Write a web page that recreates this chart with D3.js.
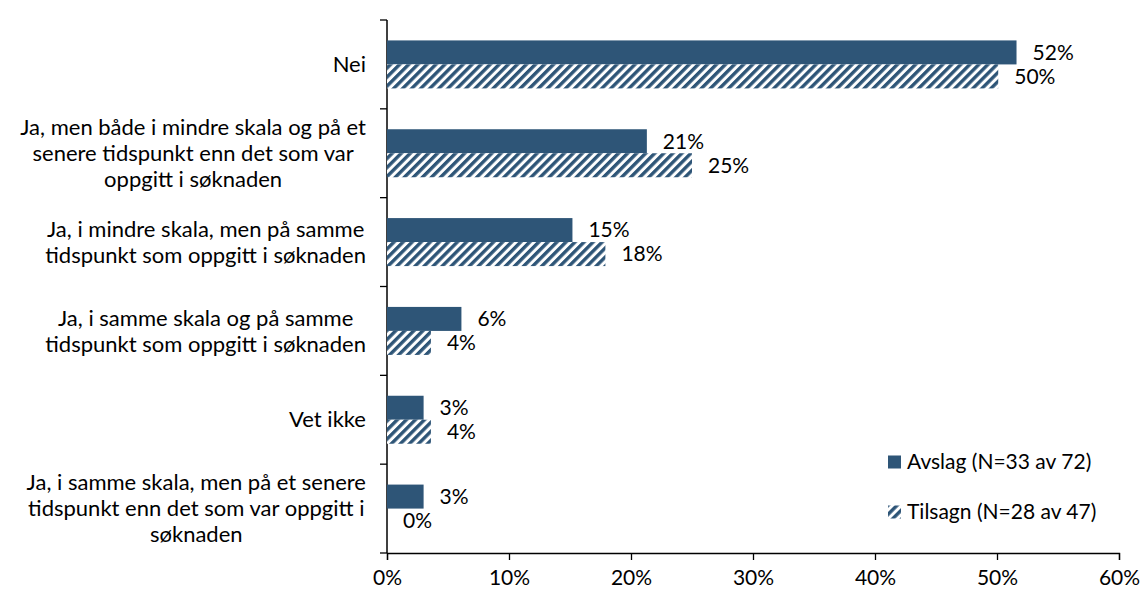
<!DOCTYPE html>
<html>
<head>
<meta charset="utf-8">
<title>Avslag / Tilsagn</title>
<script src="https://cdn.jsdelivr.net/npm/d3@7"></script>
<style>
  body { margin: 0; background: #fff; }
  svg { font-family: Lato, "Open Sans", sans-serif; }
</style>
</head>
<body>
<script>
// data
var categories = [
  ["Nei"],
  ["Ja, men både i mindre skala og på et", "senere tidspunkt enn det som var", "oppgitt i søknaden"],
  ["Ja, i mindre skala, men på samme", "tidspunkt som oppgitt i søknaden"],
  ["Ja, i samme skala og på samme", "tidspunkt som oppgitt i søknaden"],
  ["Vet ikke"],
  ["Ja, i samme skala, men på et senere", "tidspunkt enn det som var oppgitt i", "søknaden"]
];
var avslag  = [0.516, 0.213, 0.152, 0.061, 0.030, 0.030];
var tilsagn = [0.501, 0.250, 0.179, 0.036, 0.036, 0.000];
var seriesNames = ["Avslag (N=33 av 72)", "Tilsagn (N=28 av 47)"];
var xTicks = [0, 0.1, 0.2, 0.3, 0.4, 0.5, 0.6];

var W = 1142, H = 595;
var color = "#2e5577";
var mLeft = 387, mRight = 1119, mTop = 20, mBottom = 553;
var fs = 21;

var svg = d3.select("body").append("svg")
    .attr("width", W).attr("height", H);

// hatch pattern
var pat = svg.append("defs").append("pattern")
    .attr("id", "hatch")
    .attr("patternUnits", "userSpaceOnUse")
    .attr("width", 6.4).attr("height", 6.4)
    .attr("patternTransform", "rotate(45)");
pat.append("rect").attr("width", 6.4).attr("height", 6.4).attr("fill", "#fff");
pat.append("rect").attr("width", 3.4).attr("height", 6.4).attr("fill", color);

var x = d3.scaleLinear().domain([0, 0.6]).range([mLeft, mRight]);
var y = d3.scaleBand().domain(d3.range(categories.length)).range([mTop, mBottom]);

var bh = 24;

// x axis
var xAxis = svg.append("g")
    .attr("transform", "translate(0," + mBottom + ")")
    .call(d3.axisBottom(x).tickValues(xTicks).tickFormat(d3.format(".0%")).tickSizeOuter(0).tickSize(7));
xAxis.select(".domain").attr("stroke", "#000").attr("stroke-width", 1.3);
xAxis.selectAll(".tick line").attr("stroke", "#000").attr("stroke-width", 1.3);
xAxis.selectAll("text").attr("font-size", fs).attr("fill", "#000").attr("dy", "1.05em")
    .attr("font-family", "Lato, sans-serif");

// y axis line + ticks at band boundaries
svg.append("line").attr("x1", mLeft).attr("x2", mLeft).attr("y1", mTop).attr("y2", mBottom)
    .attr("stroke", "#000").attr("stroke-width", 1.5);
svg.selectAll(".ytick").data(d3.range(categories.length + 1)).enter().append("line")
    .attr("x1", mLeft - 7).attr("x2", mLeft)
    .attr("y1", function(d) { return mTop + d * y.step(); })
    .attr("y2", function(d) { return mTop + d * y.step(); })
    .attr("stroke", "#000").attr("stroke-width", 1.3);

// category labels: block right-aligned to the axis, lines centred in the block
var lineH = 26;
var labels = svg.selectAll(".cat").data(categories).enter().append("text")
    .attr("class", "cat")
    .attr("text-anchor", "middle")
    .attr("font-size", 22)
    .attr("fill", "#000");
labels.each(function(lines, i) {
  var cy = y(i) + y.bandwidth() / 2;
  var y0 = cy - (lines.length - 1) * lineH / 2;
  var t = d3.select(this);
  var spans = t.selectAll("tspan").data(lines).enter().append("tspan")
    .attr("y", function(d, j) { return y0 + j * lineH; })
    .attr("dy", "0.35em")
    .text(function(d) { return d; });
  var maxW = 0;
  spans.each(function() { maxW = Math.max(maxW, this.getComputedTextLength()); });
  spans.attr("x", 366 - maxW / 2);
});

// bars
var g = svg.append("g");
g.selectAll(".avs").data(avslag).enter().append("rect")
    .attr("x", x(0))
    .attr("y", function(d, i) { return y(i) + y.bandwidth() / 2 - bh; })
    .attr("width", function(d) { return x(d) - x(0); })
    .attr("height", bh)
    .attr("fill", color);
g.selectAll(".til").data(tilsagn).enter().append("rect")
    .attr("x", x(0))
    .attr("y", function(d, i) { return y(i) + y.bandwidth() / 2; })
    .attr("width", function(d) { return x(d) - x(0); })
    .attr("height", bh)
    .attr("fill", "url(#hatch)");

// value labels
var fmt = d3.format(".0%");
g.selectAll(".lavs").data(avslag).enter().append("text")
    .attr("x", function(d) { return x(d) + 16; })
    .attr("y", function(d, i) { return y(i) + y.bandwidth() / 2 - bh / 2; })
    .attr("dy", "0.35em")
    .attr("font-size", fs)
    .text(function(d) { return fmt(d); });
g.selectAll(".ltil").data(tilsagn).enter().append("text")
    .attr("x", function(d) { return x(d) + 16; })
    .attr("y", function(d, i) { return y(i) + y.bandwidth() / 2 + bh / 2; })
    .attr("dy", "0.35em")
    .attr("font-size", fs)
    .text(function(d) { return fmt(d); });

// legend
var leg = svg.selectAll(".leg").data(seriesNames).enter().append("g")
    .attr("transform", function(d, i) { return "translate(888," + (462 + i * 50) + ")"; });
leg.append("rect").attr("x", 0).attr("y", -6.5).attr("width", 13).attr("height", 13)
    .attr("fill", function(d, i) { return i === 0 ? color : "url(#hatch)"; });
leg.append("text").attr("x", 19).attr("dy", "0.35em").attr("font-size", fs)
    .text(function(d) { return d; });
</script>
</body>
</html>
